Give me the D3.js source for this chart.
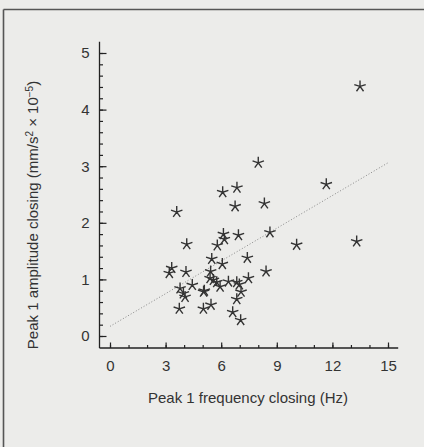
<!DOCTYPE html>
<meta charset="utf-8">
<style>
  body { margin: 0; background: #ececea; }
  text { font-family: "Liberation Sans", Arial, sans-serif; fill: #333; }
</style>
<body>
<svg id="chart" width="424" height="447"></svg>
<script src="https://d3js.org/d3.v7.min.js"></script>
<script>

// peak 1 frequency (Hz) and amplitude (mm/s^2 x 10^-5), one pair per star
var freq = [13.49, 8.0, 11.67, 8.33, 8.63, 10.07, 13.31, 8.42, 6.08, 6.85,
  3.60, 6.75, 6.12, 6.17, 6.93, 4.14, 5.79, 5.49, 6.06, 7.41,
  3.33, 3.20, 4.10, 5.43, 5.40, 5.58, 5.76, 5.94, 6.39, 6.84,
  6.98, 7.47, 4.44, 3.78, 3.96, 4.05, 5.09, 5.05, 7.07, 6.84,
  3.74, 5.04, 5.45, 6.62, 7.05]
var amp = [4.41, 3.06, 2.68, 2.34, 1.83, 1.61, 1.67, 1.14, 2.54, 2.62,
  2.19, 2.29, 1.80, 1.71, 1.78, 1.62, 1.60, 1.36, 1.27, 1.38,
  1.20, 1.11, 1.13, 1.14, 1.02, 0.99, 0.95, 0.87, 0.96, 0.95,
  0.91, 1.02, 0.90, 0.84, 0.75, 0.69, 0.80, 0.78, 0.78, 0.65,
  0.48, 0.48, 0.55, 0.42, 0.28]

// dotted fit line, read at its two ends
var trendX = [0, 15]
var trendY = [0.17, 3.06]

var xTicks = [0, 3, 6, 9, 12, 15]
var yTicks = [0, 1, 2, 3, 4, 5]

var svg = d3.select('#chart')

// page frame (only top and left edges show)
svg.append('line').attr('x1', 3.5).attr('x2', 424).attr('y1', 9.5).attr('y2', 9.5)
  .attr('stroke', '#555').attr('stroke-width', 1.6)
svg.append('line').attr('x1', 3.5).attr('x2', 3.5).attr('y1', 9.5).attr('y2', 447)
  .attr('stroke', '#555').attr('stroke-width', 1.6)

var x = d3.scaleLinear().domain([0, 15]).range([110, 388])
var y = d3.scaleLinear().domain([0, 5]).range([336, 53])

var axisX = 99.5, axisY = 348

// axis lines
svg.append('line').attr('x1', axisX).attr('x2', axisX)
  .attr('y1', y(5.2)).attr('y2', axisY)
  .attr('stroke', '#222').attr('stroke-width', 1.3)
svg.append('line').attr('x1', axisX).attr('x2', x(15.55))
  .attr('y1', axisY).attr('y2', axisY)
  .attr('stroke', '#222').attr('stroke-width', 1.3)

// y ticks: minor every 0.2, major every 1, pointing into the plot
var gy = svg.append('g').attr('transform', 'translate(' + axisX + ',0)')
gy.call(d3.axisRight(y).tickValues(d3.range(0, 5.01, 0.2)).tickSize(3.5).tickFormat(''))
gy.call(g => g.select('.domain').remove())
var gy2 = svg.append('g').attr('transform', 'translate(' + axisX + ',0)')
gy2.call(d3.axisLeft(y).tickValues(yTicks).tickSize(-7).tickPadding(10).tickFormat(d3.format('d')))
gy2.call(g => g.select('.domain').remove())

// x ticks: minor every 1, major every 3
var gx = svg.append('g').attr('transform', 'translate(0,' + axisY + ')')
gx.call(d3.axisTop(x).tickValues(d3.range(0, 16, 1)).tickSize(3).tickFormat(''))
gx.call(g => g.select('.domain').remove())
var gx2 = svg.append('g').attr('transform', 'translate(0,' + axisY + ')')
gx2.call(d3.axisBottom(x).tickValues(xTicks).tickSize(-5.5).tickPadding(12).tickFormat(d3.format('d')))
gx2.call(g => g.select('.domain').remove())

svg.selectAll('.tick line').attr('stroke', '#222').attr('stroke-width', 1.2)
svg.selectAll('.tick text').attr('font-size', 15).attr('fill', '#333')
  .attr('font-family', '"Liberation Sans", Arial, sans-serif')

// axis titles
svg.append('text').attr('x', 248).attr('y', 403).attr('text-anchor', 'middle')
  .attr('font-size', 15).text('Peak 1 frequency closing (Hz)')

var yt = svg.append('text').attr('text-anchor', 'middle').attr('font-size', 15)
  .attr('transform', 'translate(38,215) rotate(-90)')
yt.append('tspan').text('Peak 1 amplitude closing (mm/s')
yt.append('tspan').attr('font-size', 10).attr('dy', -5.5).text('2')
yt.append('tspan').attr('dy', 5.5).text(' \u00d7 10')
yt.append('tspan').attr('font-size', 10).attr('dy', -5.5).text('\u22125')
yt.append('tspan').attr('dy', 5.5).text(')')

// dotted fit line
svg.append('line')
  .attr('x1', x(trendX[0])).attr('y1', y(trendY[0]))
  .attr('x2', x(trendX[1])).attr('y2', y(trendY[1]))
  .attr('stroke', '#888').attr('stroke-width', 1).attr('stroke-dasharray', '1,2')

// five-armed asterisk markers
var r = 6
var star = d3.range(5).map(function (i) {
  var a = -Math.PI / 2 + i * 2 * Math.PI / 5
  return 'M0,0L' + (r * Math.cos(a)).toFixed(2) + ',' + (r * Math.sin(a)).toFixed(2)
}).join('')

svg.append('g').selectAll('path')
  .data(d3.range(freq.length))
  .join('path')
  .attr('d', star)
  .attr('transform', function (i) { return 'translate(' + x(freq[i]) + ',' + y(amp[i]) + ')' })
  .attr('fill', 'none')
  .attr('stroke', '#333')
  .attr('stroke-width', 1.4)

</script>
